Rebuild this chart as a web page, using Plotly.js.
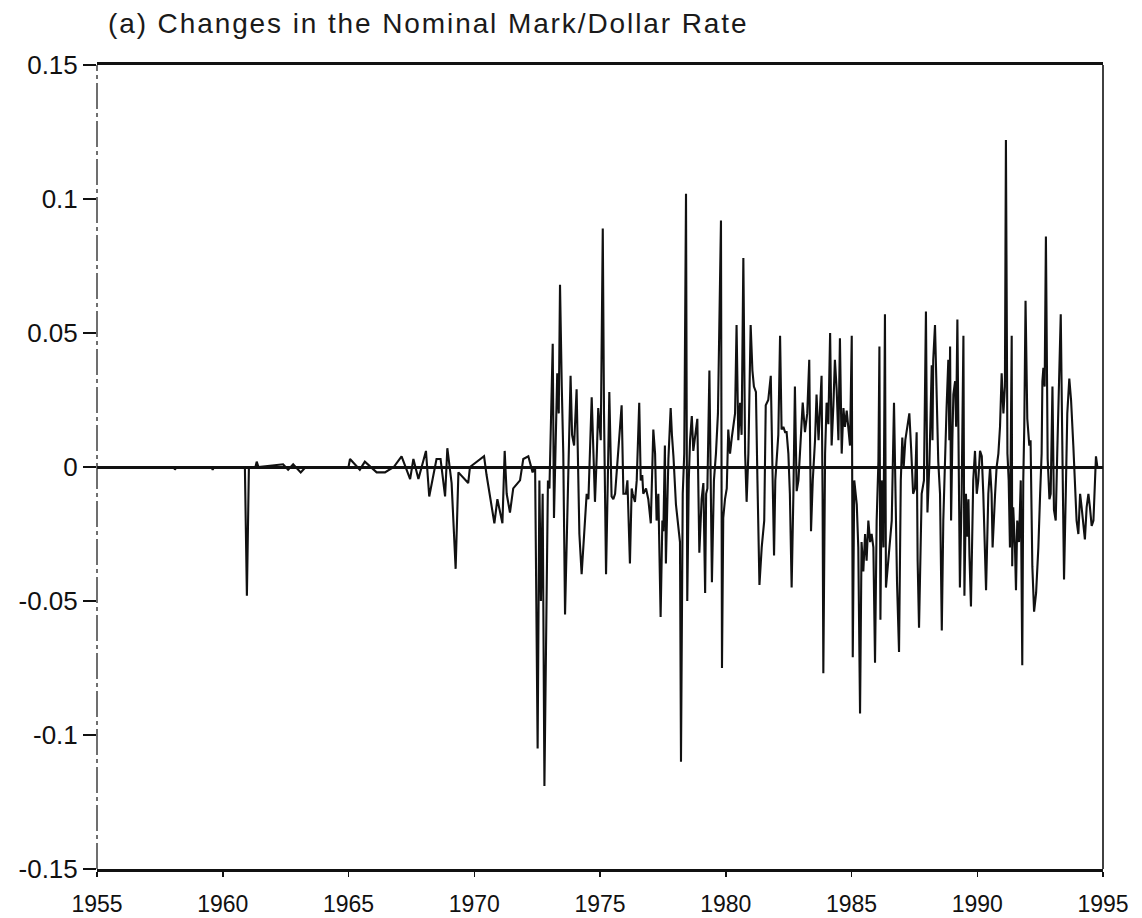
<!DOCTYPE html>
<html>
<head>
<meta charset="utf-8">
<script src="https://cdn.plot.ly/plotly-2.35.2.min.js"></script>
<style>
  html, body { margin: 0; padding: 0; background: #ffffff; }
  #chart { width: 1142px; height: 918px; }
  #chart .gtitle { letter-spacing: 1.9px; }
</style>
</head>
<body>
<div id="chart"></div>
<script>
// Dates (decimal years) of the plotted vertices
const dates = [
  1955.00, 1958.05, 1958.10, 1958.15, 1959.55, 1959.60, 1959.65, 1960.88, 1960.96, 1961.04,
  1961.30, 1961.35, 1961.42, 1962.40, 1962.60, 1962.80, 1963.10, 1963.30, 1965.00, 1965.06,
  1965.45, 1965.65, 1966.12, 1966.45, 1966.80, 1967.11, 1967.45, 1967.58, 1967.78, 1968.08,
  1968.21, 1968.50, 1968.66, 1968.84, 1968.93, 1969.10, 1969.26, 1969.37, 1969.76, 1969.83,
  1970.39, 1970.49, 1970.80, 1970.92, 1971.12, 1971.21, 1971.29, 1971.42, 1971.55, 1971.82,
  1971.95, 1972.15, 1972.32, 1972.42, 1972.52, 1972.59, 1972.65, 1972.72, 1972.79, 1972.85,
  1972.93, 1972.99, 1973.12, 1973.17, 1973.24, 1973.30, 1973.36, 1973.41, 1973.48, 1973.54,
  1973.61, 1973.74, 1973.83, 1973.89, 1973.97, 1974.07, 1974.18, 1974.27, 1974.36, 1974.47,
  1974.54, 1974.60, 1974.67, 1974.74, 1974.80, 1974.87, 1974.93, 1975.03, 1975.11, 1975.16,
  1975.24, 1975.31, 1975.37, 1975.46, 1975.53, 1975.60, 1975.73, 1975.86, 1975.93, 1976.03,
  1976.09, 1976.13, 1976.19, 1976.26, 1976.30, 1976.39, 1976.46, 1976.56, 1976.62, 1976.68,
  1976.72, 1976.83, 1976.92, 1977.02, 1977.12, 1977.19, 1977.25, 1977.32, 1977.41, 1977.48,
  1977.52, 1977.58, 1977.62, 1977.72, 1977.81, 1977.86, 1977.92, 1978.02, 1978.12, 1978.18,
  1978.22, 1978.29, 1978.35, 1978.42, 1978.47, 1978.53, 1978.58, 1978.65, 1978.71, 1978.78,
  1978.87, 1978.95, 1979.04, 1979.11, 1979.18, 1979.22, 1979.27, 1979.35, 1979.40, 1979.45,
  1979.53, 1979.61, 1979.69, 1979.81, 1979.85, 1979.90, 1979.97, 1980.04, 1980.10, 1980.17,
  1980.24, 1980.30, 1980.37, 1980.43, 1980.50, 1980.57, 1980.63, 1980.70, 1980.77, 1980.83,
  1980.90, 1980.99, 1981.06, 1981.12, 1981.20, 1981.26, 1981.34, 1981.43, 1981.53, 1981.59,
  1981.69, 1981.79, 1981.87, 1981.92, 1981.97, 1982.03, 1982.09, 1982.16, 1982.22, 1982.29,
  1982.36, 1982.42, 1982.49, 1982.55, 1982.62, 1982.69, 1982.75, 1982.82, 1982.89, 1982.95,
  1983.06, 1983.15, 1983.24, 1983.32, 1983.39, 1983.46, 1983.55, 1983.61, 1983.69, 1983.81,
  1983.85, 1983.88, 1983.95, 1984.01, 1984.08, 1984.15, 1984.21, 1984.28, 1984.34, 1984.41,
  1984.48, 1984.54, 1984.61, 1984.68, 1984.74, 1984.81, 1984.87, 1984.94, 1985.01, 1985.05,
  1985.11, 1985.21, 1985.27, 1985.34, 1985.40, 1985.47, 1985.54, 1985.60, 1985.67, 1985.74,
  1985.80, 1985.87, 1985.935, 1986.00, 1986.07, 1986.11, 1986.15, 1986.20, 1986.27, 1986.33,
  1986.37, 1986.47, 1986.60, 1986.69, 1986.74, 1986.81, 1986.89, 1986.96, 1987.02, 1987.075,
  1987.14, 1987.22, 1987.30, 1987.37, 1987.45, 1987.525, 1987.59, 1987.63, 1987.685, 1987.79,
  1987.88, 1987.96, 1988.02, 1988.10, 1988.19, 1988.22, 1988.25, 1988.32, 1988.39, 1988.45,
  1988.52, 1988.59, 1988.65, 1988.72, 1988.78, 1988.85, 1988.89, 1988.92, 1988.96, 1989.01,
  1989.05, 1989.12, 1989.16, 1989.21, 1989.26, 1989.31, 1989.38, 1989.45, 1989.49, 1989.55,
  1989.61, 1989.65, 1989.69, 1989.75, 1989.84, 1989.91, 1989.98, 1990.04, 1990.11, 1990.18,
  1990.24, 1990.31, 1990.35, 1990.44, 1990.51, 1990.57, 1990.61, 1990.71, 1990.77, 1990.84,
  1990.905, 1990.97, 1991.04, 1991.10, 1991.14, 1991.20, 1991.25, 1991.30, 1991.37, 1991.39,
  1991.43, 1991.50, 1991.54, 1991.59, 1991.66, 1991.73, 1991.79, 1991.83, 1991.87, 1991.92,
  1991.99, 1992.07, 1992.12, 1992.19, 1992.26, 1992.34, 1992.43, 1992.50, 1992.56, 1992.59,
  1992.63, 1992.68, 1992.73, 1992.80, 1992.87, 1992.92, 1992.99, 1993.05, 1993.12, 1993.18,
  1993.25, 1993.32, 1993.38, 1993.45, 1993.52, 1993.58, 1993.66, 1993.73, 1993.82, 1993.89,
  1993.95, 1994.02, 1994.09, 1994.15, 1994.22, 1994.28, 1994.35, 1994.42, 1994.48, 1994.55,
  1994.62, 1994.68, 1994.72, 1994.775
];

// Changes in the nominal Mark/Dollar rate at those dates
const rateChanges = [
  0.000, 0.000, -0.001, 0.000, 0.000, -0.001, 0.000, 0.000, -0.048, 0.000,
  0.000, 0.002, 0.000, 0.001, -0.001, 0.001, -0.002, 0.000, 0.000, 0.003,
  -0.001, 0.002, -0.002, -0.002, 0.000, 0.004, -0.0045, 0.003, -0.0045, 0.006,
  -0.011, 0.003, 0.003, -0.011, 0.007, -0.006, -0.038, -0.002, -0.006, 0.000,
  0.004, -0.003, -0.021, -0.012, -0.021, 0.006, -0.010, -0.017, -0.008, -0.005,
  0.003, 0.004, -0.002, 0.000, -0.105, -0.005, -0.050, -0.010, -0.119, -0.065,
  -0.005, -0.008, 0.046, -0.019, 0.005, 0.035, 0.020, 0.068, 0.030, 0.005,
  -0.055, 0.005, 0.034, 0.012, 0.008, 0.029, -0.025, -0.040, -0.028, -0.010,
  -0.012, 0.009, 0.026, 0.005, -0.013, 0.004, 0.022, 0.010, 0.089, 0.020,
  -0.040, -0.005, 0.028, -0.011, -0.012, -0.010, 0.005, 0.023, -0.010, -0.010,
  -0.005, -0.016, -0.036, -0.008, -0.010, -0.013, -0.005, 0.024, -0.005, -0.003,
  -0.010, -0.008, -0.012, -0.021, 0.014, 0.005, -0.020, -0.010, -0.056, -0.020,
  -0.024, 0.008, -0.036, 0.003, 0.022, 0.012, 0.004, -0.014, -0.024, -0.028,
  -0.110, -0.010, 0.005, 0.102, -0.050, -0.005, 0.010, 0.019, 0.006, 0.012,
  0.018, -0.032, -0.012, -0.006, -0.047, -0.010, -0.008, 0.036, -0.002, -0.043,
  -0.005, 0.005, 0.020, 0.092, -0.075, -0.019, -0.012, -0.008, 0.014, 0.005,
  0.011, 0.016, 0.020, 0.053, 0.010, 0.024, 0.012, 0.078, 0.005, -0.013,
  0.005, 0.053, 0.036, 0.030, 0.028, -0.005, -0.044, -0.030, -0.020, 0.023,
  0.025, 0.034, -0.005, -0.033, -0.005, 0.002, 0.012, 0.049, 0.014, 0.015,
  0.013, 0.013, 0.005, -0.010, -0.045, -0.010, 0.030, -0.009, -0.005, 0.005,
  0.024, 0.013, 0.020, 0.040, -0.024, -0.005, 0.010, 0.027, 0.010, 0.034,
  -0.010, -0.077, 0.005, 0.024, 0.016, 0.050, 0.008, 0.023, 0.040, 0.029,
  0.010, 0.048, 0.005, 0.022, 0.015, 0.021, 0.015, 0.008, 0.049, -0.071,
  -0.005, -0.014, -0.030, -0.092, -0.028, -0.039, -0.025, -0.035, -0.020, -0.028,
  -0.025, -0.030, -0.073, -0.020, 0.002, 0.045, -0.057, -0.005, -0.030, 0.057,
  -0.045, -0.033, -0.020, 0.024, -0.010, -0.043, -0.069, -0.005, 0.011, 0.000,
  0.010, 0.016, 0.020, 0.007, -0.010, -0.008, 0.013, -0.035, -0.060, -0.010,
  -0.005, 0.058, -0.017, 0.002, 0.038, 0.010, 0.040, 0.053, 0.025, 0.002,
  -0.010, -0.061, -0.020, 0.005, 0.022, 0.040, 0.010, 0.045, -0.020, 0.010,
  0.027, 0.032, 0.015, 0.055, -0.005, -0.045, -0.010, 0.049, -0.048, -0.010,
  -0.026, -0.012, -0.033, -0.052, -0.005, 0.006, -0.010, -0.005, 0.006, 0.004,
  -0.010, -0.030, -0.046, -0.010, 0.000, -0.010, -0.030, -0.010, 0.000, 0.005,
  0.015, 0.035, 0.020, 0.030, 0.122, 0.005, -0.005, -0.030, 0.049, -0.037,
  -0.015, -0.030, -0.046, -0.020, -0.028, -0.005, -0.074, -0.005, 0.015, 0.062,
  0.018, 0.008, 0.010, -0.037, -0.054, -0.047, -0.030, -0.010, 0.005, 0.032,
  0.037, 0.030, 0.086, 0.003, -0.012, -0.010, 0.030, -0.016, -0.020, 0.005,
  0.030, 0.057, 0.010, -0.042, -0.010, 0.020, 0.033, 0.025, 0.008, -0.008,
  -0.020, -0.025, -0.010, -0.015, -0.023, -0.027, -0.015, -0.010, -0.015, -0.022,
  -0.020, -0.005, 0.004, 0.000
];

const xTickVals = [1955, 1960, 1965, 1970, 1975, 1980, 1985, 1990, 1995];
const yTickVals = [-0.15, -0.1, -0.05, 0, 0.05, 0.1, 0.15];
const yTickText = ['-0.15', '-0.1', '-0.05', '0', '0.05', '0.1', '0.15'];
const chartTitle = '(a) Changes in the Nominal Mark/Dollar Rate';

const fontFamily = '"Liberation Sans", Arial, Helvetica, sans-serif';

const trace = {
  x: dates,
  y: rateChanges,
  type: 'scatter',
  mode: 'lines',
  line: { color: '#111111', width: 2.1 },
  hoverinfo: 'x+y'
};

const layout = {
  width: 1142,
  height: 918,
  paper_bgcolor: '#ffffff',
  plot_bgcolor: '#ffffff',
  margin: { l: 97, r: 39, t: 65, b: 49, pad: 0 },
  showlegend: false,
  title: {
    text: chartTitle,
    font: { family: fontFamily, size: 28, color: '#1a1a1a' },
    x: 108 / 1142,
    xref: 'container',
    xanchor: 'left',
    y: 1 - 23 / 918,
    yref: 'container',
    yanchor: 'middle'
  },
  xaxis: {
    range: [1955, 1995],
    tickvals: xTickVals,
    ticktext: xTickVals.map(String),
    ticks: 'outside',
    ticklen: 5,
    tickwidth: 1.5,
    tickcolor: '#111111',
    ticklabelstandoff: 7,
    showgrid: false,
    zeroline: false,
    showline: true,
    linecolor: '#111111',
    linewidth: 3,
    mirror: true,
    tickfont: { family: fontFamily, size: 23, color: '#111111' },
    fixedrange: true
  },
  yaxis: {
    range: [-0.15, 0.15],
    tickvals: yTickVals,
    ticktext: yTickText,
    ticks: 'outside',
    ticklen: 13,
    tickwidth: 2,
    tickcolor: '#111111',
    showgrid: false,
    zeroline: true,
    zerolinecolor: '#111111',
    zerolinewidth: 3,
    showline: false,
    tickfont: { family: fontFamily, size: 26, color: '#111111' },
    fixedrange: true
  },
  shapes: [
    { type: 'line', xref: 'paper', yref: 'paper', x0: 0, x1: 0, y0: 0, y1: 1,
      line: { color: '#222222', width: 1.3, dash: '26px,4px,4px,4px' } },
    { type: 'line', xref: 'paper', yref: 'paper', x0: 1, x1: 1, y0: 0, y1: 1,
      line: { color: '#111111', width: 1.6 } }
  ]
};

Plotly.newPlot('chart', [trace], layout, { displayModeBar: false, staticPlot: true });
</script>
</body>
</html>
